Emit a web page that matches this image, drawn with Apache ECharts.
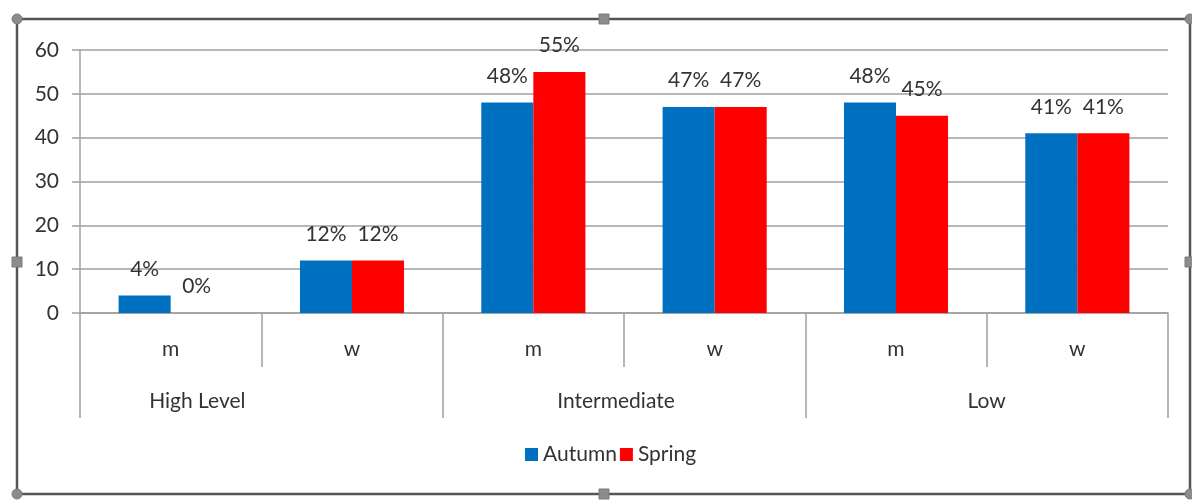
<!DOCTYPE html>
<html><head><meta charset="utf-8">
<script src="https://cdn.jsdelivr.net/npm/echarts@6/dist/echarts.min.js"></script>
<style>html,body{margin:0;padding:0;background:#fff}#c{width:1192px;height:500px}</style>
</head><body><div id="c"></div>
<script>
const categories = ['m','w','m','w','m','w'];
const groups = ['High Level','Intermediate','Low'];
const autumn = [4,12,48,47,48,41];
const spring = [0,12,55,47,45,41];
const yTicks = [0,10,20,30,40,50,60];

const FONT = 'Lato, "Open Sans", sans-serif';
const FS = 21;
const TXT = '#333333';
const GRID = '#a0a0a0';
const chart = echarts.init(document.getElementById('c'));

function handle(x, y, round) {
  return round
    ? {type:'circle', shape:{cx:x, cy:y, r:5}, style:{fill:'#8c8c8c', stroke:'#7a7a7a'}, z:10}
    : {type:'rect', shape:{x:x-5, y:y-5, width:10, height:10}, style:{fill:'#8c8c8c', stroke:'#7a7a7a'}, z:10};
}

const groupPad = {'High Level':[0,128,0,0], 'Intermediate':[0,16,0,0], 'Low':[0,0,0,0]};

chart.setOption({
  animation:false,
  backgroundColor:'#fff',
  grid:{left:80, right:24, top:50, bottom:187, containLabel:false},
  legend:{
    data:['Autumn','Spring'], bottom:30, left:520,
    itemWidth:13, itemHeight:13, itemGap:3, icon:'rect',
    textStyle:{fontFamily:FONT, fontSize:FS, color:TXT, padding:[0,0,0,0]}
  },
  xAxis:[{
    type:'category', data:categories, position:'bottom',
    axisLine:{show:true, lineStyle:{color:GRID, width:1.5}},
    axisTick:{show:true, interval:0, length:54, lineStyle:{color:GRID, width:1.5}},
    axisLabel:{fontFamily:FONT, fontSize:FS, color:TXT, margin:26, interval:0}
  },{
    type:'category', data:groups, position:'bottom',
    axisLine:{show:false},
    axisTick:{show:true, interval:0, length:105, lineStyle:{color:GRID, width:1.5}},
    axisLabel:{fontFamily:FONT, fontSize:FS, color:TXT, margin:78, interval:0,
      formatter:function(v){ return '{' + (v==='High Level'?'a':(v==='Intermediate'?'b':'c')) + '|' + v + '}'; },
      rich:{
        a:{fontFamily:FONT, fontSize:FS, color:TXT, padding:groupPad['High Level']},
        b:{fontFamily:FONT, fontSize:FS, color:TXT, padding:groupPad['Intermediate']},
        c:{fontFamily:FONT, fontSize:FS, color:TXT, padding:groupPad['Low']}
      }
    }
  }],
  yAxis:{
    type:'value', min:yTicks[0], max:yTicks[yTicks.length-1], interval:10,
    axisLine:{show:true, lineStyle:{color:GRID, width:1.5}},
    axisTick:{show:true, length:8, lineStyle:{color:GRID, width:1.5}},
    splitLine:{lineStyle:{color:GRID, width:1.5}},
    axisLabel:{fontFamily:FONT, fontSize:FS, color:TXT, margin:21}
  },
  series:[{
    name:'Autumn', type:'bar', data:autumn, barGap:'0%', barCategoryGap:'42.6%',
    itemStyle:{color:'#0070c0'},
    label:{show:true, position:'top', distance:16, formatter:'{c}%', fontFamily:FONT, fontSize:FS, color:TXT}
  },{
    name:'Spring', type:'bar', data:spring, barGap:'0%', barCategoryGap:'42.6%',
    itemStyle:{color:'#ff0000'},
    label:{show:true, position:'top', distance:16, formatter:'{c}%', fontFamily:FONT, fontSize:FS, color:TXT}
  }],
  graphic:[
    {type:'rect', shape:{x:17, y:19, width:1173, height:475}, style:{fill:null, stroke:'#555', lineWidth:2.5}, z:9},
    handle(17,19,true), handle(604,19,false), handle(1190,19,true),
    handle(17,262,false), handle(1190,262,false),
    handle(17,494,true), handle(604,494,false), handle(1190,494,true)
  ]
});
</script></body></html>
